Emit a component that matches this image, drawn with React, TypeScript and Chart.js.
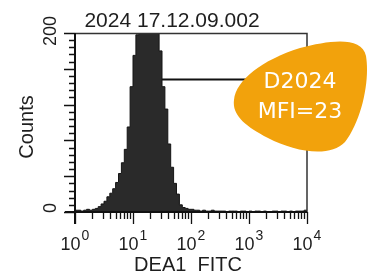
import React, { useEffect, useRef } from 'react';
import { Chart, registerables } from 'chart.js';

Chart.register(...registerables);

// ---- data ----
const TITLE = '2024 17.12.09.002';
const X_TITLE = 'DEA1  FITC';
const Y_TITLE = 'Counts';
const BADGE_LINES = ['D2024', 'MFI=23'];
const X_DECADES = [0, 1, 2, 3, 4];
const Y_TICK_LABELS = [0, 200];
const Y_MAX = 200;
const Y_MINOR_STEP = 8;
const Y_MAJOR_STEP = 40;
// histogram channels: start at 10^LOG_START, each LOG_STEP decades wide
const LOG_START = 0;
const LOG_STEP = 0.05;
const COUNTS = [
  2, 2, 1, 2, 3, 2, 3, 4, 6, 9,
  12, 17, 21, 26, 33, 43, 55, 70, 95, 140,
  175, 198, 220, 242, 256, 258, 250, 232, 212, 180,
  140, 115, 76, 50, 32, 20, 8, 5, 4, 3,
  3, 2, 2, 1, 2, 1, 1, 2, 1, 1,
  1, 1, 0, 1, 1, 1, 0, 1, 1, 0,
  1, 0, 1, 1, 0, 1, 0, 0, 1, 1,
  0, 1, 1, 0, 1, 0, 1, 1, 1, 2,
];
const MARKER_FROM = 30;
const MARKER_TO = 10000;
const MARKER_LEVEL = 148;

const SANS = '"Liberation Sans", Arial, sans-serif';
const BADGE_FONT = '"DejaVu Sans", Verdana, sans-serif';
const INK = '#1e1e1e';

const decorPlugin = {
  id: 'decor',
  afterDatasetsDraw(chart: any) {
    const ctx = chart.ctx as CanvasRenderingContext2D;
    const xs = chart.scales.x;
    const ys = chart.scales.y;
    const area = chart.chartArea;
    const y0 = ys.getPixelForValue(0);
    const x0 = xs.getPixelForValue(1);
    ctx.save();
    // frame (top + right)
    ctx.strokeStyle = '#333';
    ctx.lineWidth = 1.5;
    ctx.beginPath();
    ctx.moveTo(area.left, area.top + 0.5);
    ctx.lineTo(area.right, area.top + 0.5);
    ctx.lineTo(area.right, y0);
    ctx.stroke();
    // axes
    ctx.strokeStyle = '#111';
    ctx.lineWidth = 2;
    ctx.beginPath();
    ctx.moveTo(x0, area.top);
    ctx.lineTo(x0, y0 + 12);
    ctx.moveTo(x0 - 10, y0);
    ctx.lineTo(area.right, y0);
    ctx.stroke();
    // y ticks
    ctx.lineWidth = 1.3;
    ctx.beginPath();
    for (let v = 0; v <= Y_MAX; v += Y_MINOR_STEP) {
      const py = Math.round(ys.getPixelForValue(v)) + 0.5;
      const len = v % Y_MAJOR_STEP === 0 ? 11 : 6;
      ctx.moveTo(x0, py);
      ctx.lineTo(x0 - len, py);
    }
    ctx.stroke();
    // x ticks
    ctx.beginPath();
    for (let d = 0; d < X_DECADES.length; d++) {
      const dec = Math.pow(10, X_DECADES[d]);
      const px = Math.round(xs.getPixelForValue(dec)) + 0.5;
      ctx.moveTo(px, y0);
      ctx.lineTo(px, y0 + 12);
      if (d < X_DECADES.length - 1) {
        for (let m = 2; m <= 9; m++) {
          const mx = Math.round(xs.getPixelForValue(dec * m)) + 0.5;
          ctx.moveTo(mx, y0);
          ctx.lineTo(mx, y0 + 7);
        }
      }
    }
    ctx.stroke();

    // texts
    ctx.fillStyle = INK;
    ctx.textBaseline = 'alphabetic';
    // title
    ctx.font = `21px ${SANS}`;
    ctx.textAlign = 'center';
    ctx.fillText(TITLE, 172, 27);
    // x tick labels with superscripts
    for (const e of X_DECADES) {
      const px = xs.getPixelForValue(Math.pow(10, e));
      ctx.font = `18px ${SANS}`;
      const wb = ctx.measureText('10').width;
      ctx.font = `14px ${SANS}`;
      const we = ctx.measureText(String(e)).width;
      const left = px - (wb + 1 + we) / 2;
      ctx.textAlign = 'left';
      ctx.font = `18px ${SANS}`;
      ctx.fillText('10', left, 250);
      ctx.font = `14px ${SANS}`;
      ctx.fillText(String(e), left + wb + 1, 240);
    }
    // x title
    ctx.font = `20px ${SANS}`;
    ctx.textAlign = 'center';
    ctx.fillText(X_TITLE, 188, 271);
    // y tick labels (rotated)
    ctx.font = `18px ${SANS}`;
    for (const v of Y_TICK_LABELS) {
      const py = ys.getPixelForValue(v);
      const cy = v === 0 ? py - 4 : py - 2;
      ctx.save();
      ctx.translate(56, cy);
      ctx.rotate(-Math.PI / 2);
      ctx.textAlign = 'center';
      ctx.fillText(String(v), 0, 0);
      ctx.restore();
    }
    // y title
    ctx.save();
    ctx.font = `20px ${SANS}`;
    ctx.translate(33, 127);
    ctx.rotate(-Math.PI / 2);
    ctx.textAlign = 'center';
    ctx.fillText(Y_TITLE, 0, 0);
    ctx.restore();

    // badge blob
    ctx.fillStyle = '#F2A20C';
    ctx.beginPath();
    ctx.moveTo(234, 100);
    ctx.bezierCurveTo(236, 80, 262, 60, 300, 48);
    ctx.bezierCurveTo(330, 40, 362, 36, 366, 56);
    ctx.bezierCurveTo(370, 80, 362, 120, 345, 142);
    ctx.bezierCurveTo(330, 158, 295, 152, 268, 138);
    ctx.bezierCurveTo(245, 126, 232, 115, 234, 100);
    ctx.closePath();
    ctx.fill();
    ctx.fillStyle = '#ffffff';
    ctx.font = `22px ${BADGE_FONT}`;
    ctx.textAlign = 'center';
    ctx.fillText(BADGE_LINES[0], 300, 88);
    ctx.fillText(BADGE_LINES[1], 300, 118);
    ctx.restore();
  },
};

export default function App() {
  const ref = useRef<HTMLCanvasElement | null>(null);
  useEffect(() => {
    document.body.style.margin = '0';
    const canvas = ref.current;
    if (!canvas) return;
    const hist = COUNTS.map((c, i) => ({ x: Math.pow(10, LOG_START + i * LOG_STEP), y: c }));
    hist.push({ x: Math.pow(10, LOG_START + COUNTS.length * LOG_STEP), y: COUNTS[COUNTS.length - 1] });
    const chart = new Chart(canvas, {
      type: 'line',
      data: {
        datasets: [
          {
            data: hist,
            stepped: true,
            fill: 'origin',
            backgroundColor: '#2a2a2a',
            borderColor: '#151515',
            borderWidth: 1,
            pointRadius: 0,
            clip: 0,
            order: 1,
          } as any,
          {
            data: [
              { x: MARKER_FROM, y: MARKER_LEVEL },
              { x: MARKER_TO, y: MARKER_LEVEL },
            ],
            borderColor: '#111',
            borderWidth: 2,
            pointRadius: 0,
            fill: false,
            order: 2,
          } as any,
        ],
      },
      options: {
        responsive: false,
        animation: false,
        devicePixelRatio: 1,
        layout: { padding: { left: 75, right: 61, top: 33, bottom: 65 } },
        plugins: { legend: { display: false }, tooltip: { enabled: false }, title: { display: false } },
        scales: {
          x: { type: 'logarithmic', min: 1, max: 10000, display: false },
          y: { type: 'linear', min: 0, max: Y_MAX, display: false },
        },
      },
      plugins: [decorPlugin],
    });
    return () => chart.destroy();
  }, []);
  return (
    <div style={{ position: 'fixed', left: 0, top: 0, width: 368, height: 277, background: '#fff' }}>
      <canvas ref={ref} width={368} height={277} />
    </div>
  );
}
